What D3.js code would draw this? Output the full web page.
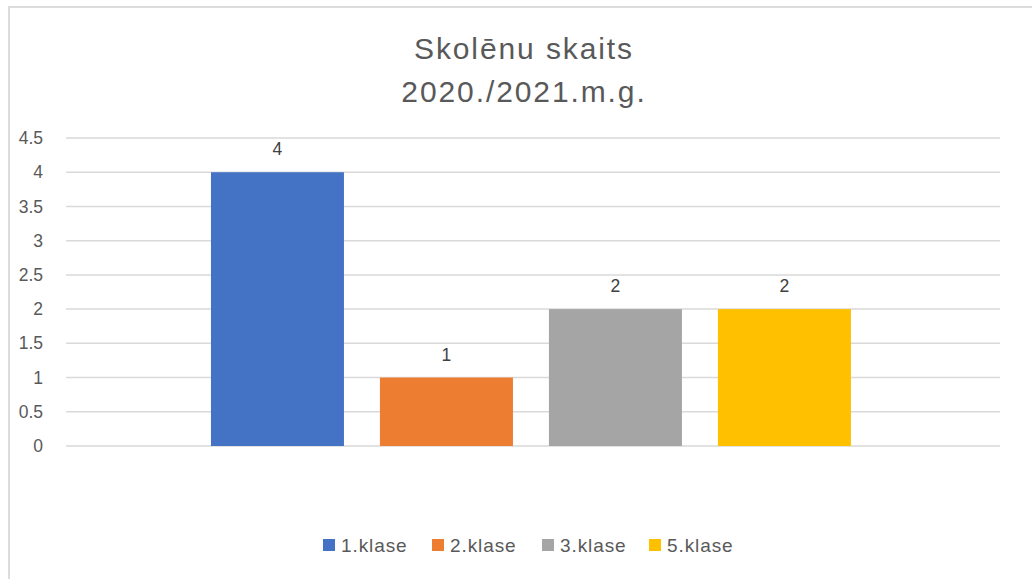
<!DOCTYPE html>
<html>
<head>
<meta charset="utf-8">
<script src="https://cdn.jsdelivr.net/npm/d3@7"></script>
<style>
  body { margin: 0; background: #fff; }
  svg text { font-family: "Liberation Sans", "DejaVu Sans", sans-serif; }
</style>
</head>
<body>
<svg id="chart" width="1032" height="579"></svg>
<script>
// chart data
const titleLines = ["Skolēnu skaits", "2020./2021.m.g."];
const seriesNames = ["1.klase", "2.klase", "3.klase", "5.klase"];
const seriesValues = [4, 1, 2, 2];
const seriesColors = ["#4472C4", "#ED7D31", "#A5A5A5", "#FFC000"];
const yTicks = [0, 0.5, 1, 1.5, 2, 2.5, 3, 3.5, 4, 4.5];

const svg = d3.select("svg#chart");

// outer frame (top and left edge of the chart box)
svg.append("rect").attr("x", 0).attr("y", 0).attr("width", 1032).attr("height", 579).attr("fill", "#fff");
svg.append("rect").attr("x", 8).attr("y", 6).attr("width", 1024).attr("height", 2).attr("fill", "#dcdcdc");
svg.append("rect").attr("x", 8).attr("y", 6).attr("width", 2).attr("height", 573).attr("fill", "#dcdcdc");

// title
svg.append("g").selectAll("text")
  .data(titleLines)
  .join("text")
    .attr("x", 524)
    .attr("y", (d, i) => 59 + i * 43)
    .attr("text-anchor", "middle")
    .attr("font-size", 30)
    .attr("letter-spacing", 1.9)
    .attr("fill", "#595959")
    .text(d => d);

const plotLeft = 66, plotRight = 1000;

const y = d3.scaleLinear().domain([0, 4.5]).range([446, 138]);
const x = d3.scaleBand()
  .domain(seriesNames)
  .range([plotLeft, plotRight])
  .paddingInner(0.213)
  .paddingOuter(0.87)
  .align(0.493);

// gridlines
svg.append("g")
  .selectAll("line")
  .data(yTicks)
  .join("line")
    .attr("x1", plotLeft)
    .attr("x2", plotRight)
    .attr("y1", d => y(d))
    .attr("y2", d => y(d))
    .attr("stroke", "#d9d9d9")
    .attr("stroke-width", 1.5);

// y axis labels
const yAxis = d3.axisLeft(y).tickValues(yTicks).tickSize(0).tickPadding(0).tickFormat(d3.format("~g"));
const yAxisG = svg.append("g").attr("transform", "translate(43,0)").call(yAxis);
yAxisG.select(".domain").remove();
yAxisG.selectAll("text")
  .attr("font-size", 17.5)
  .attr("fill", "#595959")
  .attr("font-family", "Liberation Sans, sans-serif");

// bars
const data = seriesNames.map((name, i) => ({ name: name, value: seriesValues[i], color: seriesColors[i] }));
svg.append("g")
  .selectAll("rect")
  .data(data)
  .join("rect")
    .attr("x", d => x(d.name))
    .attr("y", d => y(d.value))
    .attr("width", x.bandwidth())
    .attr("height", d => y(0) - y(d.value))
    .attr("fill", d => d.color);

// data labels
svg.append("g")
  .selectAll("text")
  .data(data)
  .join("text")
    .attr("x", d => x(d.name) + x.bandwidth() / 2)
    .attr("y", d => y(d.value) - 23)
    .attr("text-anchor", "middle")
    .attr("dominant-baseline", "central")
    .attr("font-size", 17.5)
    .attr("fill", "#404040")
    .text(d => d.value);

// legend
const legendX = [323, 432, 542, 649];
const legend = svg.append("g")
  .selectAll("g")
  .data(data)
  .join("g")
    .attr("transform", (d, i) => `translate(${legendX[i]},552)`);
legend.append("rect")
  .attr("x", 0).attr("y", -13)
  .attr("width", 12).attr("height", 12)
  .attr("fill", d => d.color);
legend.append("text")
  .attr("x", 18)
  .attr("y", 0)
  .attr("font-size", 19)
  .attr("letter-spacing", 0.9)
  .attr("fill", "#595959")
  .text(d => d.name);
</script>
</body>
</html>
